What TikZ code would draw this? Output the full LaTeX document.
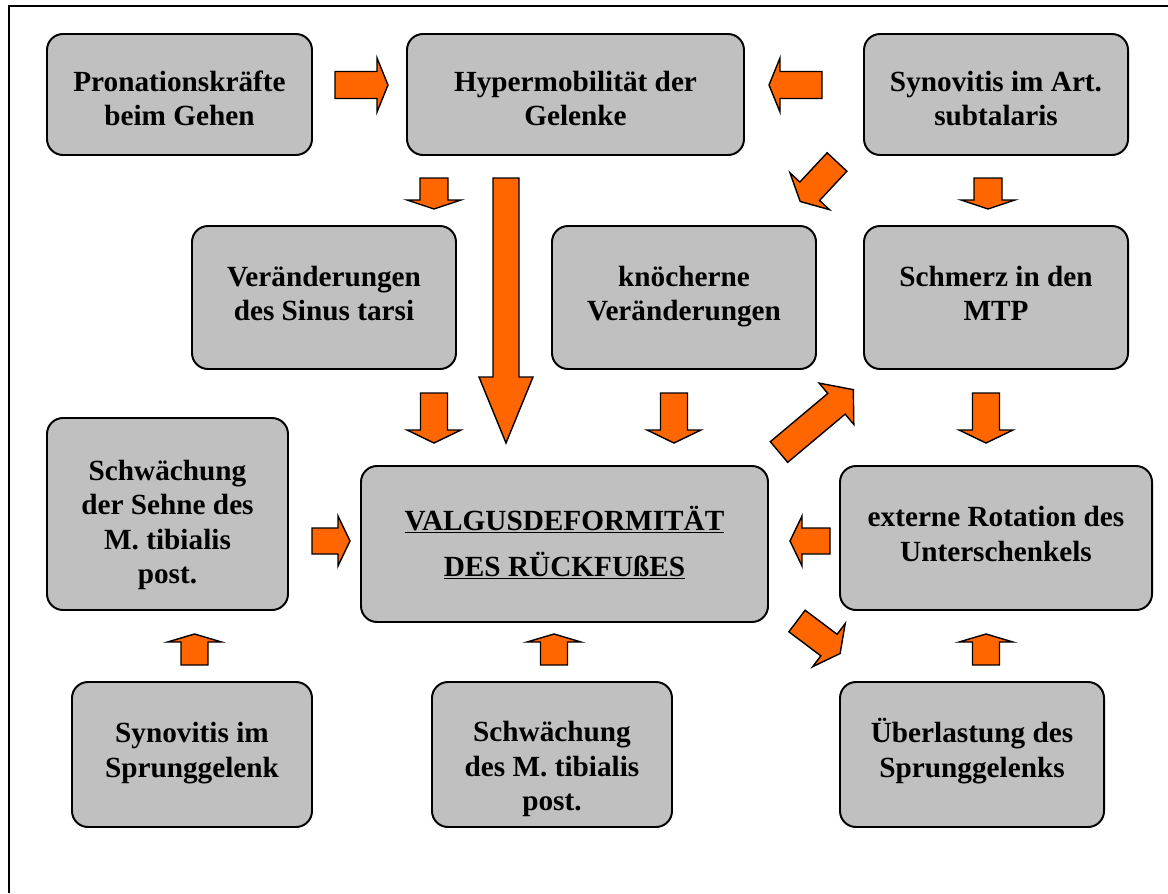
\documentclass[tikz,border=0pt]{standalone}
\usepackage{fontspec}
\setmainfont{Liberation Serif}
\definecolor{arr}{HTML}{FF6600}
\definecolor{boxgray}{HTML}{C0C0C0}
\begin{document}
\begin{tikzpicture}[x=0.025cm,y=-0.025cm,
  gbox/.style={draw=black, line width=1.4pt, fill=boxgray, rounded corners=0.4cm, inner sep=0pt},
  txt/.style={inner sep=0pt, align=center, font=\fontsize{20.8}{24.5}\selectfont\bfseries},
  arrowstyle/.style={draw=black, line width=1pt, fill=arr, line join=miter},
  pics/barrow/.style n args={4}{code={\draw[arrowstyle] (0,#2) -- ({#1-#4},#2) -- ({#1-#4},#3) -- (#1,0) -- ({#1-#4},-#3) -- ({#1-#4},-#2) -- (0,-#2) -- cycle;}}
]
\useasboundingbox[fill=white] (0,0) rectangle (1168,893);
\draw[line width=1.4pt] (9,893) -- (9,6) -- (1168,6);

% boxes
\node[gbox, minimum width=265*0.025cm, minimum height=121*0.025cm] (p1) at (179.5,94.5) {};
\node[gbox, minimum width=337*0.025cm, minimum height=121*0.025cm] (p2) at (575.5,94.5) {};
\node[gbox, minimum width=264*0.025cm, minimum height=121*0.025cm] (p3) at (996,94.5) {};
\node[gbox, minimum width=264*0.025cm, minimum height=143*0.025cm] (p4) at (324,297.5) {};
\node[gbox, minimum width=264*0.025cm, minimum height=143*0.025cm] (p5) at (684,297.5) {};
\node[gbox, minimum width=264*0.025cm, minimum height=143*0.025cm] (p6) at (996,297.5) {};
\node[gbox, minimum width=241*0.025cm, minimum height=192*0.025cm] (p7) at (167.5,514) {};
\node[gbox, minimum width=407*0.025cm, minimum height=156*0.025cm] (p8) at (564.5,544) {};
\node[gbox, minimum width=312*0.025cm, minimum height=144*0.025cm] (p9) at (996,538) {};
\node[gbox, minimum width=240*0.025cm, minimum height=145*0.025cm] (p10) at (192,754.5) {};
\node[gbox, minimum width=240*0.025cm, minimum height=145*0.025cm] (p11) at (552,754.5) {};
\node[gbox, minimum width=264*0.025cm, minimum height=145*0.025cm] (p12) at (972,754.5) {};

% texts
\node[txt] (t1) at ([yshift=-0.18cm]p1.center) {\strut Pronationskräfte\\\strut beim Gehen};
\node[txt] (t2) at ([yshift=-0.18cm]p2.center) {\strut Hypermobilität der\\\strut Gelenke};
\node[txt] (t3) at ([yshift=-0.18cm]p3.center) {\strut Synovitis im Art.\\\strut subtalaris};
\node[txt] (t4) at ([yshift=0.02cm]p4.center) {\strut Veränderungen\\\strut des Sinus tarsi};
\node[txt] (t5) at ([yshift=0.02cm]p5.center) {\strut knöcherne\\\strut Veränderungen};
\node[txt] (t6) at ([yshift=0.02cm]p6.center) {\strut Schmerz in den\\\strut MTP};
\node[txt] (t7) at ([yshift=-0.28cm]p7.center) {\strut Schwächung\\\strut der Sehne des\\\strut M. tibialis\\\strut post.};
\node[txt, font=\fontsize{20.8}{33}\selectfont\bfseries] (t8) at (p8.center) {\strut\underline{VALGUSDEFORMITÄT}\\\strut\underline{DES RÜCKFUßES}};
\node[txt] (t9) at ([yshift=0.02cm]p9.center) {\strut externe Rotation des\\\strut Unterschenkels};
\node[txt] (t10) at ([yshift=0.04cm]p10.center) {\strut Synovitis im\\\strut Sprunggelenk};
\node[txt] (t11) at ([yshift=-0.37cm]p11.center) {\strut Schwächung\\\strut des M. tibialis\\\strut post.};
\node[txt] (t12) at ([yshift=0.04cm]p12.center) {\strut Überlastung des\\\strut Sprunggelenks};

% block arrows
\pic at (335,85) {barrow={53}{13.5}{27}{11}};
\pic[rotate=180] at (822,85) {barrow={53}{13.5}{27}{11}};
\pic[rotate=-90] at (434,178) {barrow={31}{14}{27}{9}};
\pic[rotate=-90] at (506,178) {barrow={265}{13}{27}{66}};
\pic[rotate=-133] at (837,162) {barrow={54}{13.5}{27}{14}};
\pic[rotate=-90] at (988,178) {barrow={31}{14}{27}{9}};
\pic[rotate=-90] at (434,393) {barrow={50}{13.5}{27}{13}};
\pic[rotate=-90] at (674,393) {barrow={50}{13.5}{27}{13}};
\pic[rotate=-90] at (986,393) {barrow={50}{13.5}{27}{13}};
\pic[rotate=40] at (779,452) {barrow={97}{13.5}{27}{22}};
\pic[rotate=-37] at (797,621) {barrow={54}{13.5}{27}{14}};
\pic at (312,541) {barrow={38}{13}{25}{12}};
\pic[rotate=180] at (830,541) {barrow={40}{13}{25}{12}};
\pic[rotate=90] at (194.5,665) {barrow={31}{13.5}{27}{8}};
\pic[rotate=90] at (554,665) {barrow={31}{13.5}{27}{8}};
\pic[rotate=90] at (986,665) {barrow={31}{13.5}{27}{8}};
\end{tikzpicture}
\end{document}
